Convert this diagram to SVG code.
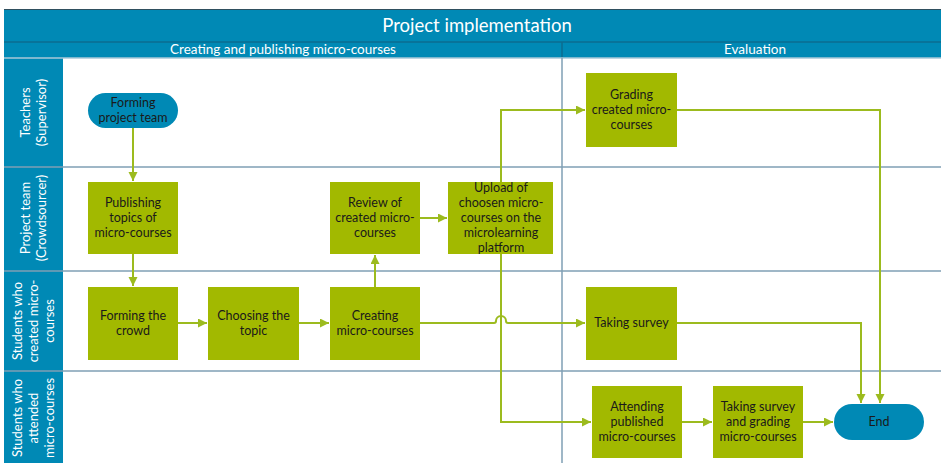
<svg xmlns="http://www.w3.org/2000/svg" width="941" height="463" viewBox="0 0 941 463">
  <style>
    .hdr { fill: #0089b5; }
    .lane-line { stroke: #7f9fb4; stroke-width: 1.5; fill: none; }
    .hdr-line { stroke: #0b6d91; stroke-width: 1.5; fill: none; }
    .step { fill: #a2b900; }
    .term { fill: #0089b5; }
    .t { font-family: Lato, "Open Sans", sans-serif; font-size: 12.5px; fill: #1a1a1a; text-anchor: middle; }
    .w { font-family: Lato, "Open Sans", sans-serif; fill: #ffffff; text-anchor: middle; }
    .conn { stroke: #9cbb1e; stroke-width: 2; fill: none; marker-end: url(#arrow); }
  </style>
  <defs>
    <marker id="arrow" markerUnits="userSpaceOnUse" markerWidth="10" markerHeight="10" refX="9" refY="4.5" orient="auto">
      <path d="M0,0 L9,4.5 L0,9 z" fill="#9cbb1e"/>
    </marker>
  </defs>

  <!-- background -->
  <rect x="0" y="0" width="941" height="463" fill="#ffffff"/>

  <!-- pool header and phase header -->
  <g id="pool-header">
    <rect class="hdr" x="4" y="9" width="937" height="49"/>
    <line x1="4" y1="9.5" x2="941" y2="9.5" stroke="#2f4f5f" stroke-width="1"/>
    <line class="hdr-line" x1="4" y1="42" x2="941" y2="42"/>
    <line class="hdr-line" x1="562" y1="42" x2="562" y2="58"/>
    <text class="w" x="477" y="32" font-size="18.5">Project implementation</text>
    <text class="w" x="283" y="54" font-size="13.5">Creating and publishing micro-courses</text>
    <text class="w" x="755" y="54" font-size="13.5">Evaluation</text>
  </g>

  <!-- swimlanes -->
  <g id="lanes">
    <rect class="hdr" x="4" y="58" width="59" height="405"/>
    <line x1="4" y1="58" x2="941" y2="58" stroke="#a9c9d8" stroke-width="1.5"/>
    <line class="lane-line" x1="4" y1="167" x2="941" y2="167"/>
    <line class="lane-line" x1="4" y1="271" x2="941" y2="271"/>
    <line class="lane-line" x1="4" y1="371" x2="941" y2="371"/>
    <line class="lane-line" x1="562" y1="58" x2="562" y2="463"/>
    <text class="w" font-size="13" transform="translate(34,112.5) rotate(-90)"><tspan x="0" y="-4">Teachers</tspan><tspan x="0" y="12">(Supervisor)</tspan></text>
    <text class="w" font-size="13" transform="translate(34,218) rotate(-90)"><tspan x="0" y="-4">Project team</tspan><tspan x="0" y="12">(Crowdsourcer)</tspan></text>
    <text class="w" font-size="13" transform="translate(34,321) rotate(-90)"><tspan x="0" y="-12">Students who</tspan><tspan x="0" y="4">created micro-</tspan><tspan x="0" y="20">courses</tspan></text>
    <text class="w" font-size="13" transform="translate(34,418) rotate(-90)"><tspan x="0" y="-12">Students who</tspan><tspan x="0" y="4">attended</tspan><tspan x="0" y="20">micro-courses</tspan></text>
  </g>

  <!-- connectors -->
  <g id="connectors">
    <path class="conn" d="M133,128 V181"/>
    <path class="conn" d="M133,254 V286"/>
    <path class="conn" d="M178,323 H207"/>
    <path class="conn" d="M299,323 H329"/>
    <path class="conn" d="M375,287 V255"/>
    <path class="conn" d="M420,218 H447"/>
    <path class="conn" d="M501,182 V110 H585"/>
    <path class="conn" d="M501,254 V422 H591"/>
    <path class="conn" d="M420,323 H494 q2,0 2,-2 a5,5 0 0 1 10,0 q0,2 2,2 H585"/>
    <path class="conn" d="M677,110 H880 V403"/>
    <path class="conn" d="M677,323 H861 V403"/>
    <path class="conn" d="M682,422 H712"/>
    <path class="conn" d="M803,422 H833"/>
  </g>

  <!-- nodes -->
  <g id="forming-project-team">
    <rect class="term" x="88" y="93" width="90" height="35" rx="17.5"/>
    <text class="t"><tspan x="133" y="107">Forming</tspan><tspan x="133" y="122">project team</tspan></text>
  </g>
  <g id="publishing-topics">
    <rect class="step" x="88" y="182" width="90" height="72"/>
    <text class="t"><tspan x="133" y="207">Publishing</tspan><tspan x="133" y="222">topics of</tspan><tspan x="133" y="237">micro-courses</tspan></text>
  </g>
  <g id="review">
    <rect class="step" x="330" y="182" width="90" height="72"/>
    <text class="t"><tspan x="375" y="207">Review of</tspan><tspan x="375" y="222">created micro-</tspan><tspan x="375" y="237">courses</tspan></text>
  </g>
  <g id="upload">
    <rect class="step" x="448" y="182" width="105" height="72"/>
    <text class="t"><tspan x="501" y="192">Upload of</tspan><tspan x="501" y="207">choosen micro-</tspan><tspan x="501" y="222">courses on the</tspan><tspan x="501" y="237">microlearning</tspan><tspan x="501" y="252">platform</tspan></text>
  </g>
  <g id="forming-crowd">
    <rect class="step" x="88" y="287" width="90" height="73"/>
    <text class="t"><tspan x="133" y="320">Forming the</tspan><tspan x="133" y="335">crowd</tspan></text>
  </g>
  <g id="choosing-topic">
    <rect class="step" x="208" y="287" width="91" height="73"/>
    <text class="t"><tspan x="253.5" y="320">Choosing the</tspan><tspan x="253.5" y="335">topic</tspan></text>
  </g>
  <g id="creating">
    <rect class="step" x="330" y="287" width="90" height="73"/>
    <text class="t"><tspan x="375" y="320">Creating</tspan><tspan x="375" y="335">micro-courses</tspan></text>
  </g>
  <g id="grading">
    <rect class="step" x="586" y="73" width="91" height="74"/>
    <text class="t"><tspan x="631.5" y="99">Grading</tspan><tspan x="631.5" y="114">created micro-</tspan><tspan x="631.5" y="129">courses</tspan></text>
  </g>
  <g id="taking-survey">
    <rect class="step" x="586" y="287" width="91" height="73"/>
    <text class="t" x="631.5" y="327">Taking survey</text>
  </g>
  <g id="attending">
    <rect class="step" x="592" y="386" width="90" height="72"/>
    <text class="t"><tspan x="637" y="411">Attending</tspan><tspan x="637" y="426">published</tspan><tspan x="637" y="441">micro-courses</tspan></text>
  </g>
  <g id="survey-and-grading">
    <rect class="step" x="713" y="386" width="90" height="72"/>
    <text class="t"><tspan x="758" y="411">Taking survey</tspan><tspan x="758" y="426">and grading</tspan><tspan x="758" y="441">micro-courses</tspan></text>
  </g>
  <g id="end">
    <rect class="term" x="834" y="404" width="90" height="36" rx="18"/>
    <text class="t" x="879" y="426">End</text>
  </g>
</svg>
